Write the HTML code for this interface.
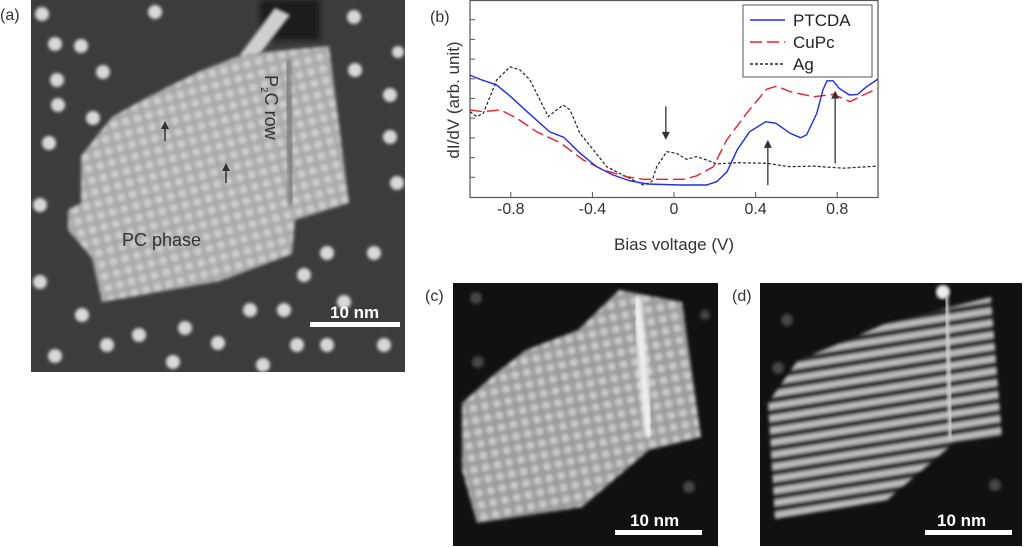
<!DOCTYPE html>
<html><head><meta charset="utf-8"><style>
html,body{margin:0;padding:0;background:#fff;width:1024px;height:547px;overflow:hidden}
svg{position:absolute;left:0;top:0}
text{font-family:"Liberation Sans",sans-serif}
</style></head><body>
<svg width="1024" height="547" viewBox="0 0 1024 547">
<defs>
<filter id="bl" x="-10%" y="-10%" width="120%" height="120%"><feGaussianBlur stdDeviation="1.6"/></filter>
<filter id="bl2"><feGaussianBlur stdDeviation="2.5"/></filter>
<pattern id="dots" width="12" height="12" patternUnits="userSpaceOnUse" patternTransform="rotate(-15)">
<rect width="12" height="12" fill="#aaaaaa"/><circle cx="6" cy="6" r="4" fill="#cdcdcd"/></pattern>
<pattern id="dotsc" width="12" height="12" patternUnits="userSpaceOnUse" patternTransform="rotate(-12)">
<rect width="12" height="12" fill="#9c9c9c"/><circle cx="6" cy="6" r="4" fill="#c9c9c9"/></pattern>
<pattern id="stripes" width="300" height="12" patternUnits="userSpaceOnUse" patternTransform="rotate(-9)">
<rect width="300" height="12" fill="#2a2a2a"/><rect y="3" width="300" height="6" fill="#bdbdbd"/></pattern>
</defs>

<!-- panel a -->
<g>
<text x="0" y="20" font-size="16" fill="#333">(a)</text>
<rect x="31" y="0" width="374" height="372" fill="#3c3c3c"/>
<rect x="260" y="0" width="60" height="40" fill="#1a1a1a" filter="url(#bl2)"/>
<g fill="#d8d8d8" filter="url(#bl)">
<circle cx="42" cy="14" r="7"/><circle cx="155" cy="12" r="7"/><circle cx="55" cy="44" r="7"/><circle cx="81" cy="46" r="7"/><circle cx="103" cy="72" r="7"/><circle cx="57" cy="80" r="7"/><circle cx="58" cy="105" r="7"/><circle cx="93" cy="118" r="7"/><circle cx="49" cy="143" r="7"/><circle cx="354" cy="17" r="7"/><circle cx="355" cy="70" r="7"/><circle cx="390" cy="95" r="7"/><circle cx="390" cy="137" r="7"/><circle cx="398" cy="52" r="6"/><circle cx="397" cy="183" r="7"/><circle cx="40" cy="205" r="7"/><circle cx="40" cy="282" r="7"/><circle cx="327" cy="253" r="7"/><circle cx="374" cy="253" r="7"/><circle cx="304" cy="275" r="7"/><circle cx="250" cy="310" r="7"/><circle cx="284" cy="310" r="7"/><circle cx="344" cy="302" r="7"/><circle cx="82" cy="315" r="7"/><circle cx="185" cy="328" r="7"/><circle cx="139" cy="335" r="7"/><circle cx="107" cy="345" r="7"/><circle cx="218" cy="343" r="7"/><circle cx="297" cy="345" r="7"/><circle cx="327" cy="345" r="7"/><circle cx="384" cy="345" r="7"/><circle cx="55" cy="356" r="7"/><circle cx="173" cy="362" r="7"/><circle cx="263" cy="365" r="7"/>
</g>
<path d="M240,55 L275,8 L290,15 L255,60 Z" fill="#cfcfcf" filter="url(#bl)"/>
<polygon points="81,156 112,117 146,98 200,71 244,54 329,46 349,203 295,220 292,254 220,281 102,302 92,258 68,230 68,210 81,203" fill="url(#dots)" filter="url(#bl)"/>
<path d="M287,60 L292,205" stroke="#777" stroke-width="8" filter="url(#bl2)" opacity="0.8"/>
<g stroke="#333" fill="#333" stroke-width="1.5">
<line x1="165" y1="141" x2="165" y2="127"/><polygon points="161,129 169,129 165,121" stroke="none"/>
<line x1="226" y1="183" x2="226" y2="169"/><polygon points="222,171 230,171 226,163" stroke="none"/>
</g>
<text transform="translate(265,75) rotate(90)" font-size="18" fill="#333">P<tspan font-size="10" dy="4">2</tspan><tspan dy="-4">C row</tspan></text>
<text x="122" y="246" font-size="18" fill="#333">PC phase</text>
<text x="330" y="318" font-size="17" font-weight="bold" fill="#fff">10 nm</text>
<rect x="310" y="322" width="90" height="5" fill="#fff"/>
</g>

<!-- panel c -->
<g>
<text x="425" y="301" font-size="16" fill="#333">(c)</text>
<rect x="453" y="283" width="265" height="263" fill="#111"/>
<g fill="#444" filter="url(#bl)"><circle cx="476" cy="298" r="6"/><circle cx="478" cy="362" r="6"/><circle cx="705" cy="315" r="5"/><circle cx="689" cy="487" r="6"/></g>
<polygon points="462,403 496,373 526,350 578,330 619,290 682,302 701,437 649,450 582,507 477,523 462,470" fill="url(#dotsc)" filter="url(#bl)"/>
<path d="M637,297 L649,437" stroke="#f0f0f0" stroke-width="9" filter="url(#bl2)"/>
<text x="630" y="526" font-size="17" font-weight="bold" fill="#fff">10 nm</text>
<rect x="615" y="530" width="87" height="5" fill="#fff"/>
</g>

<!-- panel d -->
<g>
<text x="732" y="301" font-size="16" fill="#333">(d)</text>
<rect x="760" y="283" width="262" height="263" fill="#111"/>
<g fill="#444" filter="url(#bl)"><circle cx="787" cy="320" r="6"/><circle cx="778" cy="368" r="6"/><circle cx="995" cy="485" r="6"/></g>
<polygon points="768,403 798,360 831,347 887,323 991,297 1002,437 954,443 887,500 775,520" fill="url(#stripes)" filter="url(#bl)"/>
<path d="M946,297 L951,440" stroke="#d0d0d0" stroke-width="4" filter="url(#bl)"/>
<circle cx="943" cy="292" r="7" fill="#eee" filter="url(#bl)"/>
<text x="937" y="526" font-size="17" font-weight="bold" fill="#fff">10 nm</text>
<rect x="925" y="530" width="87" height="5" fill="#fff"/>
</g>

<!-- chart b -->
<g id="chart">
<text x="430" y="22" font-size="16" fill="#333">(b)</text>
</g>
</svg>
<script>
const xTicks=[-0.8,-0.4,0,0.4,0.8];
const xTickLabels=["-0.8","-0.4","0","0.4","0.8"];
const yTicks=[1,2,3,4,5,6,7,8,9];
const ptcdaV=[-1,-0.95,-0.87,-0.8,-0.72,-0.61,-0.54,-0.46,-0.38,-0.3,-0.22,-0.13,0.03,0.16,0.21,0.26,0.31,0.37,0.45,0.5,0.57,0.62,0.65,0.7,0.73,0.75,0.78,0.81,0.86,0.9,0.94,1.0];
const ptcdaY=[6.19,5.97,5.69,5.09,4.33,3.31,3.03,2.22,1.54,1.12,0.83,0.66,0.61,0.61,0.78,1.28,2.39,3.31,3.82,3.74,3.23,3.01,3.15,4.25,5.43,5.90,5.90,5.52,5.18,5.21,5.57,5.99];
const cupcV=[-1,-0.935,-0.851,-0.771,-0.673,-0.559,-0.444,-0.346,-0.232,-0.15,0.046,0.111,0.193,0.258,0.356,0.454,0.503,0.569,0.683,0.781,0.863,0.928,1.0];
const cupcY=[4.42,4.33,4.42,4.0,3.31,2.76,1.88,1.37,1.03,0.90,0.90,1.07,1.54,2.89,4.25,5.47,5.63,5.35,5.09,5.21,4.84,5.18,5.52];
const agV=[-1,-0.967,-0.935,-0.902,-0.869,-0.804,-0.755,-0.706,-0.657,-0.616,-0.575,-0.543,-0.51,-0.461,-0.395,-0.33,-0.265,-0.199,-0.15,-0.109,-0.085,-0.036,0.013,0.062,0.111,0.16,0.209,0.307,0.454,0.569,0.683,0.83,1.0];
const agY=[4.33,4.08,4.25,5.09,5.94,6.61,6.45,5.94,4.92,4.08,4.42,4.67,4.42,3.23,2.39,1.54,1.2,0.86,0.61,0.78,1.54,2.3,2.22,1.91,2.05,1.88,1.68,1.74,1.71,1.54,1.57,1.46,1.57];
const arrowsV=[-0.04,0.46,0.79];
const arrowsFrom=[4.6,0.6,1.7];
const arrowsTo=[2.9,2.9,5.4];

const NS="http://www.w3.org/2000/svg";
const g=document.getElementById('chart');
const L=470,R=878,T=0,B=197;
const sx=v=>L+(v+1)/2*(R-L);
const sy=v=>B-v/10*(B-T);
function mk(t,a){const e=document.createElementNS(NS,t);for(const k in a)e.setAttribute(k,a[k]);g.appendChild(e);return e;}
let fr=mk('rect',{x:L,y:T+0.5,width:R-L,height:B-T,fill:'none',stroke:'#555','stroke-width':1.2});


yTicks.forEach(t=>{const e=mk('line',{x1:L,x2:L+5,y1:sy(t),y2:sy(t),stroke:'#555'});

});
xTicks.forEach((t,i)=>{const e=mk('line',{x1:sx(t),x2:sx(t),y1:B,y2:B-5,stroke:'#555'});


const tx=mk('text',{x:sx(t),y:B+17,'text-anchor':'middle','font-size':16,fill:'#333'});tx.textContent=xTickLabels[i];

});
const xl=mk('text',{x:674,y:250,'text-anchor':'middle','font-size':17,fill:'#333'});xl.textContent='Bias voltage (V)';


const yl=mk('text',{transform:'translate(459,100) rotate(-90)','text-anchor':'middle','font-size':17,fill:'#333'});yl.textContent='dI/dV (arb. unit)';


function line(xs,ys,col,dash,w,name){const d=xs.map((v,i)=>(i?'L':'M')+sx(v).toFixed(1)+','+sy(ys[i]).toFixed(1)).join('');
const p=mk('path',{d:d,fill:'none',stroke:col,'stroke-width':w,'stroke-dasharray':dash});

}
line(agV,agY,'#222','3,2',1.2,'ag-series');
line(cupcV,cupcY,'#e8202a','12,5',1.4,'cupc-series');
line(ptcdaV,ptcdaY,'#1f2ee8','none',1.4,'ptcda-series');
arrowsV.forEach((v,i)=>{const x=sx(v),y1=sy(arrowsFrom[i]),y2=sy(arrowsTo[i]);const dir=y2>y1?1:-1;
const l=mk('line',{x1:x,x2:x,y1:y1,y2:y2-dir*6,stroke:'#333','stroke-width':1.3});


const h=mk('polygon',{points:`${x-4},${y2-dir*8} ${x+4},${y2-dir*8} ${x},${y2}`,fill:'#333'});

});
const lg=mk('rect',{x:743,y:5,width:129,height:72,fill:'#fff',stroke:'#555','stroke-width':1});


[['PTCDA','#1f2ee8','none'],['CuPc','#e8202a','12,5'],['Ag','#222','3,2']].forEach((e,i)=>{const y=20+i*22;
const s=mk('line',{x1:750,x2:785,y1:y,y2:y,stroke:e[1],'stroke-dasharray':e[2],'stroke-width':1.4});


const t=mk('text',{x:793,y:y+6,'font-size':17,fill:'#222'});t.textContent=e[0];

});
</script>
</body></html>
